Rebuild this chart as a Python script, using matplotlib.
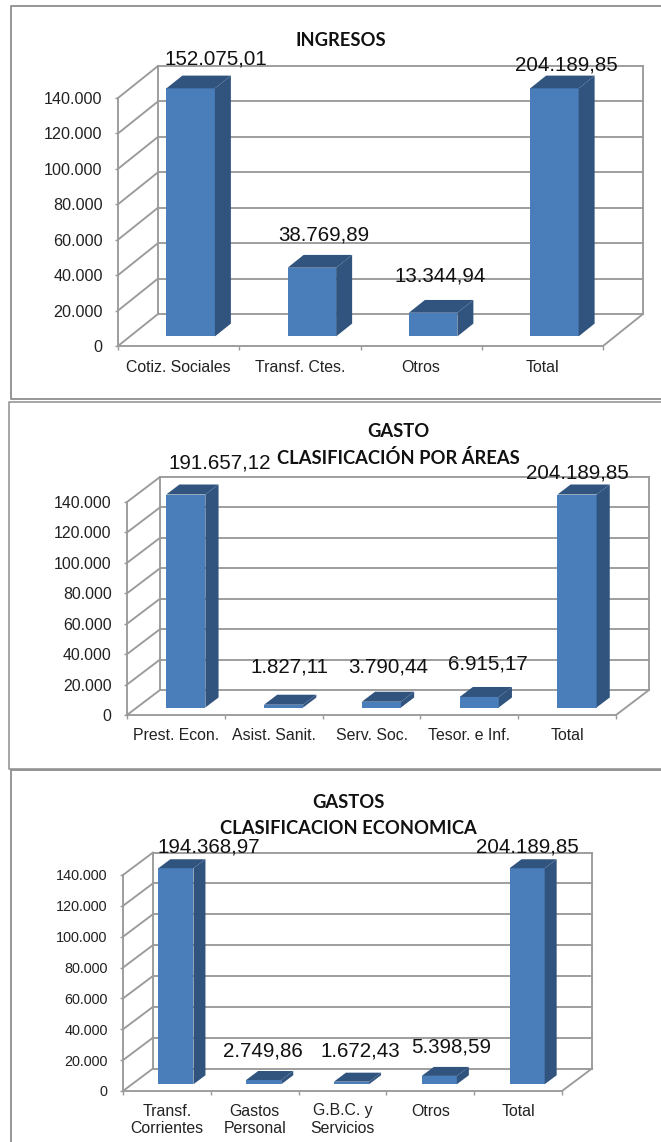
import matplotlib
matplotlib.use("Agg")
import matplotlib.pyplot as plt
from matplotlib.lines import Line2D
import numpy as np

W, H = 661, 1142
plt.rcParams['font.family'] = ['Liberation Sans', 'DejaVu Sans']

# data
cats_ing = ['Cotiz. Sociales', 'Transf. Ctes.', 'Otros', 'Total']
vals_ing = [152075.01, 38769.89, 13344.94, 204189.85]
labels_ing = ['152.075,01', '38.769,89', '13.344,94', '204.189,85']

cats_area = ['Prest. Econ.', 'Asist. Sanit.', 'Serv. Soc.', 'Tesor. e Inf.', 'Total']
vals_area = [191657.12, 1827.11, 3790.44, 6915.17, 204189.85]
labels_area = ['191.657,12', '1.827,11', '3.790,44', '6.915,17', '204.189,85']

cats_eco = ['Transf.\nCorrientes', 'Gastos\nPersonal', 'G.B.C. y\nServicios', 'Otros', 'Total']
vals_eco = [194368.97, 2749.86, 1672.43, 5398.59, 204189.85]
labels_eco = ['194.368,97', '2.749,86', '1.672,43', '5.398,59', '204.189,85']

yticks = [0, 20000, 40000, 60000, 80000, 100000, 120000, 140000]
ymax = 140000

GRID = '#9a9a9a'
FRONT = '#4a7ebb'
DARK = '#31547f'
LW = 1.35


def px(x, y):
    return x / W, 1 - y / H


def panel(cats, vals, labels, box, off, lab_pos, title, title_x, title_ys, tick_fs, cat_pad):
    x0, x1, y0, ytop = box
    n = len(cats)
    ax = fig.add_axes([x0 / W, 1 - y0 / H, (x1 - x0) / W, (y0 - ytop) / H])
    ax.patch.set_alpha(0)
    ax.set_xlim(0, n)
    ax.set_ylim(0, ymax)
    # depth of the fake 3d box, in data units
    ddx = off[0] / ((x1 - x0) / n)
    ddy = off[1] / ((y0 - ytop) / ymax)

    for v in yticks:
        ax.plot([ddx, n + ddx], [v + ddy, v + ddy], color=GRID, lw=LW, clip_on=False, zorder=1)
        ax.plot([0, ddx], [v, v + ddy], color=GRID, lw=LW, clip_on=False, zorder=1)
    ax.plot([ddx, ddx], [ddy, ymax + ddy], color=GRID, lw=LW, clip_on=False, zorder=1)
    ax.plot([n + ddx, n + ddx], [ddy, ymax + ddy], color=GRID, lw=LW, clip_on=False, zorder=1)
    ax.plot([n, n + ddx], [0, ddy], color=GRID, lw=LW, clip_on=False, zorder=1)

    # bars are cut at the axis top, same as the original
    h = np.minimum(vals, ymax)
    start, depth, bw = 0.3, 0.4, 0.4
    xs = np.arange(n) + 0.5 + start * ddx
    base = start * ddy
    ax.bar(xs, h, width=bw, bottom=base, color=FRONT, zorder=3, clip_on=False)
    for xc, hv in zip(xs, h):
        l, r, t = xc - bw / 2, xc + bw / 2, base + hv
        dx, dy = depth * ddx, depth * ddy
        ax.fill([r, r + dx, r + dx, r], [base, base + dy, t + dy, t], color=DARK, lw=0, zorder=3, clip_on=False)
        ax.fill([l, l + dx, r + dx, r], [t, t + dy, t + dy, t], color=DARK, lw=0, zorder=3, clip_on=False)

    ax.spines['top'].set_visible(False)
    ax.spines['right'].set_visible(False)
    ax.spines['left'].set_color(GRID)
    ax.spines['bottom'].set_color(GRID)
    ax.spines['left'].set_linewidth(LW)
    ax.spines['bottom'].set_linewidth(LW)
    ax.set_yticks(yticks)
    ax.set_yticklabels([f"{v:,}".replace(",", ".") for v in yticks], fontsize=tick_fs, color='#222222')
    ax.tick_params(axis='y', length=2.5, width=1, color=GRID, pad=8.5)
    ax.set_xticks(np.arange(n + 1))
    ax.set_xticklabels([])
    ax.set_xticks(np.arange(n) + 0.5, minor=True)
    ax.set_xticklabels(cats, minor=True, fontsize=11.4, color='#222222', linespacing=1.2)
    ax.tick_params(axis='x', which='major', length=3, width=1, color=GRID)
    ax.tick_params(axis='x', which='minor', length=0, pad=cat_pad)

    for t, (lx, ly) in zip(labels, lab_pos):
        fx, fy = px(lx, ly)
        fig.text(fx, fy, t, fontsize=14.8, ha='center', va='center_baseline', color='#111111', zorder=10)

    for t, ty in zip(title, title_ys):
        fx, fy = px(title_x, ty)
        fig.text(fx, fy, t, fontsize=13.2, fontweight='bold', family=['Lato', 'DejaVu Sans'],
                 ha='center', va='center', color='#111111', zorder=10)


def border(xs, ys, color='#8e8e8e', lw=1.3):
    fig.add_artist(Line2D(np.array(xs) / W, 1 - np.array(ys) / H, color=color, lw=lw))


fig = plt.figure(figsize=(W / 100, H / 100), dpi=100, facecolor='white')

border([661, 11, 11, 661], [6, 6, 399, 399])
border([661, 9, 9, 661], [402, 402, 769, 769], lw=1.1)
border([661, 11, 11], [770, 770, 1142])

panel(cats_ing, vals_ing, labels_ing, (118, 603, 346, 98), (40, 32),
      [(216, 57), (324, 233), (440, 274), (566, 63)],
      ['INGRESOS'], 341, [40], 11.6, 10)
panel(cats_area, vals_area, labels_area, (127, 616, 715, 502), (33, 25),
      [(220, 461), (289, 665), (388, 665), (488, 662), (577, 471)],
      ['GASTO', 'CLASIFICACIÓN POR ÁREAS'], 398, [432, 458], 11.4, 9)
panel(cats_eco, vals_eco, labels_eco, (123, 562, 1091, 875), (30, 22.5),
      [(209, 845), (263, 1049), (360, 1049), (451, 1045), (527, 845)],
      ['GASTOS', 'CLASIFICACION ECONOMICA'], 348.5, [802, 828], 10.4, 9)

fig.savefig('out.png', dpi=100)
